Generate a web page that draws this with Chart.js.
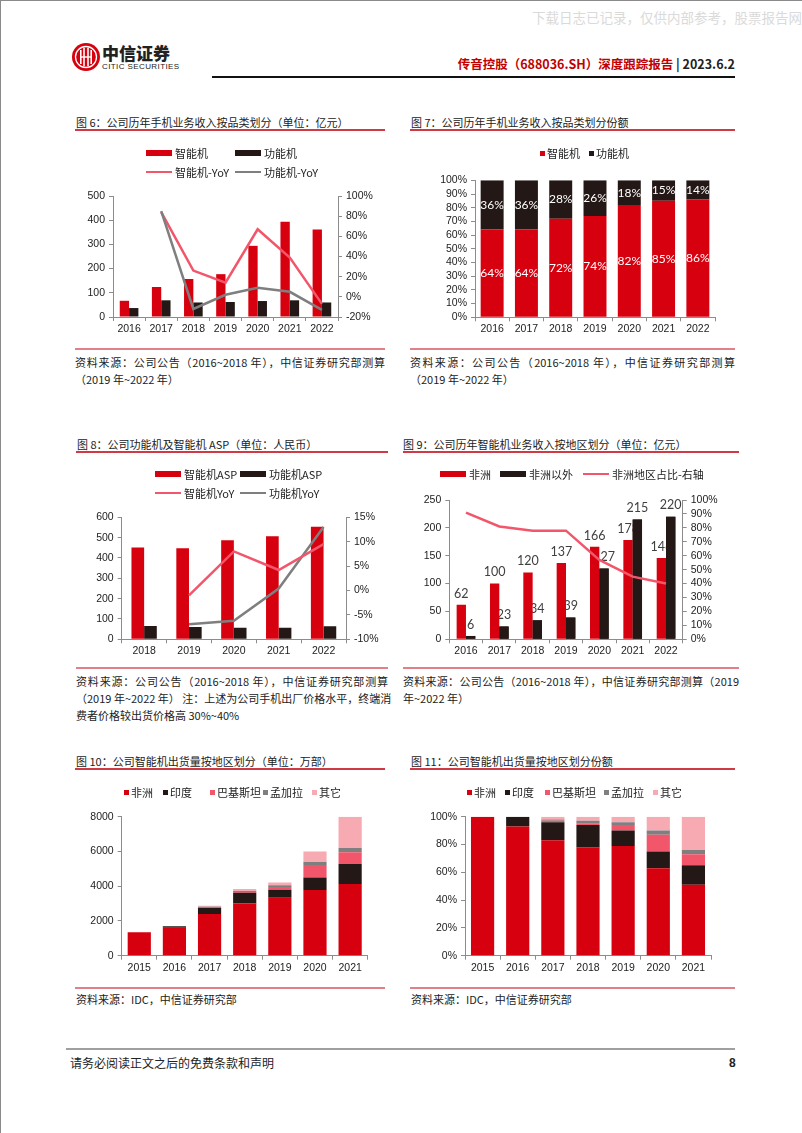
<!DOCTYPE html>
<html lang="zh-CN">
<head>
<meta charset="utf-8">
<script src="https://cdn.jsdelivr.net/npm/chart.js@4.4.0/dist/chart.umd.min.js"></script>
<style>
  html, body { margin: 0; padding: 0; background: #fff; }
  body { width: 802px; height: 1133px; position: relative; overflow: hidden;
         font-family: "Noto Sans CJK SC", "Liberation Sans", sans-serif; color: #222; }
  .frame { position: absolute; left: 0; top: 0; width: 802px; height: 1133px; box-sizing: border-box;
           border-left: 1px solid #8a8a8a; border-top: 1px solid #8a8a8a; pointer-events: none; }
  .abs { position: absolute; white-space: nowrap; }
  .title { position: absolute; font-size: 11px; line-height: 14px; color: #222; white-space: nowrap; }
  .rt { position: absolute; height: 1.5px; background: #cf3a44; }
  .rb { position: absolute; height: 1.5px; background: #e08088; }
  .src { position: absolute; font-size: 11px; line-height: 14px; color: #222; white-space: nowrap; }
  .just { text-align: justify; text-align-last: justify; }
  canvas { position: absolute; }
  .lg { position: absolute; font-size: 11px; line-height: 14px; color: #222; white-space: nowrap; }
  .sw { position: absolute; }
</style>
</head>
<body>
<div class="abs" style="left:532px;top:7px;font-size:13.5px;color:#dadada;">下载日志已记录，仅供内部参考，股票报告网</div>

<svg class="abs" style="left:72px;top:43px" width="28" height="28" viewBox="0 0 28 28">
  <circle cx="14" cy="14" r="14" fill="#d7000f"/>
  <circle cx="14" cy="14" r="10.5" fill="none" stroke="#fff" stroke-width="1.3"/>
  <rect x="8" y="7" width="1.6" height="14" fill="#fff"/>
  <rect x="11.2" y="5" width="1.6" height="18" fill="#fff"/>
  <rect x="15.2" y="5" width="1.6" height="18" fill="#fff"/>
  <rect x="18.4" y="7" width="1.6" height="14" fill="#fff"/>
  <rect x="8" y="13.3" width="12" height="1.4" fill="#fff"/>
</svg>
<div class="abs" style="left:102px;top:42px;font-size:17px;font-weight:900;color:#222;line-height:22px;">中信证券</div>
<div class="abs" style="left:102px;top:62px;font-size:8px;font-family:'Liberation Sans Narrow','Liberation Sans',sans-serif;letter-spacing:0.4px;color:#222;line-height:10px;">CITIC SECURITIES</div>

<div class="abs" style="right:67px;top:56px;font-size:12.5px;font-weight:bold;line-height:16px;">
  <span style="color:#c00000">传音控股（688036.SH）深度跟踪报告</span><span style="color:#222"> | 2023.6.2</span>
</div>
<div class="abs" style="left:212px;top:76px;width:523px;height:2px;background:#111;"></div>

<!-- figure 6 -->
<div class="title" style="left:76px;top:115px;">图 6：公司历年手机业务收入按品类划分（单位：亿元）</div>
<div class="rt" style="left:75px;top:129px;width:310px;"></div>
<canvas id="c6" width="310" height="160" style="left:75px;top:185px;"></canvas>
<div class="rb" style="left:75px;top:348px;width:310px;"></div>
<div class="src just" style="left:75px;top:355px;width:310px;">资料来源：公司公告（2016~2018 年），中信证券研究部测算</div>
<div class="src" style="left:75px;top:372px;">（2019 年~2022 年）</div>

<!-- figure 7 -->
<div class="title" style="left:411px;top:115px;">图 7：公司历年手机业务收入按品类划分份额</div>
<div class="rt" style="left:410px;top:129px;width:325px;"></div>
<canvas id="c7" width="325" height="175" style="left:410px;top:170px;"></canvas>
<div class="rb" style="left:410px;top:348px;width:325px;"></div>
<div class="src just" style="left:410px;top:355px;width:325px;">资料来源：公司公告（2016~2018 年），中信证券研究部测算</div>
<div class="src" style="left:410px;top:372px;">（2019 年~2022 年）</div>

<!-- figure 8 -->
<div class="title" style="left:77px;top:437px;">图 8：公司功能机及智能机 ASP（单位：人民币）</div>
<div class="rt" style="left:76px;top:451px;width:312px;"></div>
<canvas id="c8" width="310" height="160" style="left:75px;top:505px;"></canvas>
<div class="rb" style="left:76px;top:667px;width:312px;"></div>
<div class="src just" style="left:76px;top:674px;width:312px;">资料来源：公司公告（2016~2018 年），中信证券研究部测算</div>
<div class="src just" style="left:76px;top:691px;width:312px;">（2019 年~2022 年） 注：上述为公司手机出厂价格水平，终端消</div>
<div class="src" style="left:76px;top:708px;">费者价格较出货价格高 30%~40%</div>

<!-- figure 9 -->
<div class="title" style="left:403px;top:437px;">图 9：公司历年智能机业务收入按地区划分（单位：亿元）</div>
<div class="rt" style="left:403px;top:451px;width:336px;"></div>
<canvas id="c9" width="332" height="180" style="left:403px;top:485px;"></canvas>
<div class="rb" style="left:403px;top:667px;width:336px;"></div>
<div class="src just" style="left:403px;top:674px;width:336px;">资料来源：公司公告（2016~2018 年），中信证券研究部测算（2019</div>
<div class="src" style="left:403px;top:691px;">年~2022 年）</div>

<!-- figure 10 -->
<div class="title" style="left:76px;top:754px;">图 10：公司智能机出货量按地区划分（单位：万部）</div>
<div class="rt" style="left:75px;top:768px;width:310px;"></div>
<canvas id="c10" width="310" height="178" style="left:75px;top:805px;"></canvas>
<div class="rb" style="left:75px;top:987px;width:310px;"></div>
<div class="src" style="left:76px;top:992px;">资料来源：IDC，中信证券研究部</div>

<!-- figure 11 -->
<div class="title" style="left:411px;top:754px;">图 11：公司智能机出货量按地区划分份额</div>
<div class="rt" style="left:410px;top:768px;width:325px;"></div>
<canvas id="c11" width="325" height="178" style="left:410px;top:805px;"></canvas>
<div class="rb" style="left:410px;top:987px;width:325px;"></div>
<div class="src" style="left:411px;top:992px;">资料来源：IDC，中信证券研究部</div>

<div class="abs" style="left:66px;top:1048px;width:669px;height:2px;background:#a0a0a0;"></div>
<div class="abs" style="left:70px;top:1055px;font-size:12px;line-height:16px;">请务必阅读正文之后的免费条款和声明</div>
<div class="abs" style="left:729px;top:1055px;font-size:12px;line-height:16px;font-weight:bold;font-family:'Liberation Sans',sans-serif;">8</div>

<div class="frame"></div>

<script>
// ---- data ----
const years6 = ['2016', '2017', '2018', '2019', '2020', '2021', '2022'];
const smartRev = [67, 124, 157, 177, 294, 394, 362];
const featureRev = [37, 69, 60, 62, 66, 69, 60];
const smartRevYoY = [null, 84, 26, 14, 67, 39, -7];
const featureRevYoY = [null, 85, -12, 2, 9, 5, -13];

const smartShare = [64, 64, 72, 74, 82, 85, 86];
const featureShare = [36, 36, 28, 26, 18, 15, 14];

const years8 = ['2018', '2019', '2020', '2021', '2022'];
const smartASP = [452, 448, 487, 507, 554];
const featureASP = [66, 61, 57, 57, 64];
const smartAspYoY = [null, -1, 8, 4.2, 9.5];
const featureAspYoY = [null, -6.9, -6.2, 0.4, 13];

const africaRev = [62, 100, 120, 137, 166, 178, 146];
const outsideRev = [6, 23, 34, 39, 127, 215, 220];
const africaRevShare = [91, 81, 78, 78, 57, 45, 40];

const years10 = ['2015', '2016', '2017', '2018', '2019', '2020', '2021'];
const africaShip = [1350, 1610, 2400, 3000, 3340, 3780, 4130];
const indiaShip = [0, 90, 360, 630, 450, 720, 1150];
const pakistanShip = [0, 0, 30, 40, 170, 720, 680];
const bangladeshShip = [0, 0, 30, 60, 100, 180, 240];
const otherShip = [0, 0, 60, 110, 160, 600, 1800];

const africaPct = [100, 93, 83, 78, 79, 63, 51];
const indiaPct = [0, 7, 13, 16, 11, 12, 14];
const pakistanPct = [0, 0, 1, 1, 4, 12, 8];
const bangladeshPct = [0, 0, 1, 2, 2, 3, 3];
const otherPct = [0, 0, 2, 3, 4, 10, 24];

// ---- style ----
const RED = '#d7000f', DARK = '#231815', PINK = '#f2566b', GREY = '#7f7f7f', LPINK = '#f7aab2';
const AX = '#8c8c8c';

Chart.defaults.font.family = "'Liberation Sans', Arial, sans-serif";
Chart.defaults.font.size = 10.5;
Chart.defaults.color = '#222';

function legend(items) {
  for (const [x, y, kind, color, text] of items) {
    let w = 26, h = 6;
    if (kind === 'line') h = 2.5;
    if (kind === 'sq') { w = 5; h = 5; }
    const sw = document.createElement('div');
    sw.className = 'sw';
    sw.style.cssText = `left:${x}px;top:${y - h / 2}px;width:${w}px;height:${h}px;background:${color}`;
    document.body.appendChild(sw);
    const t = document.createElement('div');
    t.className = 'lg';
    t.style.left = (x + w + (kind === 'sq' ? 2 : 3)) + 'px';
    t.style.top = (y - 7) + 'px';
    t.textContent = text;
    document.body.appendChild(t);
  }
}

function xAxis(h) {
  return {
    grid: { drawOnChartArea: false, color: AX, tickLength: 4 },
    border: { color: AX },
    ticks: { padding: 2, autoSkip: false, maxRotation: 0 },
    afterFit(s) { s.height = h; }
  };
}

function yAxis(w, min, max, count, pos, pct, stacked) {
  return {
    position: pos, min, max, stacked: !!stacked,
    grid: { drawOnChartArea: false, color: AX, tickLength: 4 },
    border: { color: AX },
    ticks: { count, autoSkip: false, padding: 4, callback: v => pct ? Math.round(v) + '%' : Math.round(v) },
    afterFit(s) { s.width = w; }
  };
}

function baseOptions(pad, scales, extra) {
  return {
    responsive: false, animation: false, devicePixelRatio: 1,
    layout: { padding: pad },
    plugins: Object.assign({ legend: { display: false }, tooltip: { enabled: false } }, extra || {}),
    scales
  };
}

// value labels on bars, drawn through the bar elements that the library placed
const valueLabels = {
  id: 'valueLabels',
  afterDatasetDraw(chart, args, opts) {
    const ds = chart.data.datasets[args.index];
    if (!ds.showValues) return;
    const ctx = chart.ctx;
    ctx.save();
    ctx.font = opts.font;
    ctx.fillStyle = opts.color;
    ctx.textAlign = 'center';
    args.meta.data.forEach((bar, i) => {
      const v = ds.data[i];
      if (v == null) return;
      const txt = v + (opts.suffix || '');
      if (opts.mode === 'center') {
        ctx.textBaseline = 'middle';
        ctx.fillText(txt, bar.x, (bar.y + bar.base) / 2);
      } else {
        ctx.textBaseline = 'bottom';
        ctx.fillText(txt, bar.x, bar.y - 5);
      }
    });
    ctx.restore();
    if (ds.coverWith != null) chart.getDatasetMeta(ds.coverWith).controller.draw();
  }
};

// ---- figure 6 ----
legend([
  [146, 153, 'bar', RED, '智能机'], [235, 153, 'bar', DARK, '功能机'],
  [146, 172, 'line', PINK, '智能机-YoY'], [235, 172, 'line', GREY, '功能机-YoY']
]);
new Chart(document.getElementById('c6'), {
  type: 'bar',
  data: {
    labels: years6,
    datasets: [
      { type: 'line', label: '功能机-YoY', data: featureRevYoY, yAxisID: 'y1', borderColor: GREY, borderWidth: 2.5, pointRadius: 0, order: 0 },
      { type: 'line', label: '智能机-YoY', data: smartRevYoY, yAxisID: 'y1', borderColor: PINK, borderWidth: 2.5, pointRadius: 0, order: 0 },
      { label: '智能机', data: smartRev, backgroundColor: RED, yAxisID: 'y', order: 1, categoryPercentage: 0.58, barPercentage: 1 },
      { label: '功能机', data: featureRev, backgroundColor: DARK, yAxisID: 'y', order: 1, categoryPercentage: 0.58, barPercentage: 1 }
    ]
  },
  options: baseOptions({ top: 11 }, {
    x: xAxis(28),
    y: yAxis(38, 0, 500, 6, 'left', false),
    y1: yAxis(47, -20, 100, 7, 'right', true)
  })
});

// ---- figure 7 ----
legend([[540, 153, 'sq', RED, '智能机'], [589, 153, 'sq', DARK, '功能机']]);
new Chart(document.getElementById('c7'), {
  type: 'bar',
  data: {
    labels: years6,
    datasets: [
      { label: '智能机', data: smartShare, backgroundColor: RED, showValues: true, categoryPercentage: 0.67, barPercentage: 1 },
      { label: '功能机', data: featureShare, backgroundColor: DARK, showValues: true, categoryPercentage: 0.67, barPercentage: 1 }
    ]
  },
  options: baseOptions({ top: 7.7, right: 20 }, {
    x: Object.assign(xAxis(27.7), { stacked: true }),
    y: yAxis(65, 0, 100, 11, 'left', true, true)
  }, { valueLabels: { mode: 'center', font: "12px Lato, 'Liberation Sans', sans-serif", color: '#fff', suffix: '%' } }),
  plugins: [valueLabels]
});

// ---- figure 8 ----
legend([
  [155, 474, 'bar', RED, '智能机ASP'], [240, 474, 'bar', DARK, '功能机ASP'],
  [155, 493, 'line', PINK, '智能机YoY'], [240, 493, 'line', GREY, '功能机YoY']
]);
new Chart(document.getElementById('c8'), {
  type: 'bar',
  data: {
    labels: years8,
    datasets: [
      { type: 'line', label: '智能机YoY', data: smartAspYoY, yAxisID: 'y1', borderColor: PINK, borderWidth: 2.5, pointRadius: 0, order: 0 },
      { type: 'line', label: '功能机YoY', data: featureAspYoY, yAxisID: 'y1', borderColor: GREY, borderWidth: 2.5, pointRadius: 0, order: 0 },
      { label: '智能机ASP', data: smartASP, backgroundColor: RED, yAxisID: 'y', order: 1, categoryPercentage: 0.565, barPercentage: 1 },
      { label: '功能机ASP', data: featureASP, backgroundColor: DARK, yAxisID: 'y', order: 1, categoryPercentage: 0.565, barPercentage: 1 }
    ]
  },
  options: baseOptions({ top: 12.3 }, {
    x: xAxis(25.7),
    y: yAxis(46.7, 0, 600, 7, 'left', false),
    y1: yAxis(39, -10, 15, 6, 'right', true)
  })
});

// ---- figure 9 ----
legend([
  [440, 474, 'bar', RED, '非洲'], [500, 474, 'bar', DARK, '非洲以外'],
  [583, 474, 'line', PINK, '非洲地区占比-右轴']
]);
new Chart(document.getElementById('c9'), {
  type: 'bar',
  data: {
    labels: years6,
    datasets: [
      { type: 'line', label: '非洲地区占比-右轴', data: africaRevShare, yAxisID: 'y1', borderColor: PINK, borderWidth: 2.5, pointRadius: 0, order: 0 },
      { label: '非洲', data: africaRev, backgroundColor: RED, yAxisID: 'y', order: 1, showValues: true, coverWith: 2, categoryPercentage: 0.56, barPercentage: 1 },
      { label: '非洲以外', data: outsideRev, backgroundColor: DARK, yAxisID: 'y', order: 2, showValues: true, categoryPercentage: 0.56, barPercentage: 1 }
    ]
  },
  options: baseOptions({ top: 15 }, {
    x: xAxis(25.7),
    y: yAxis(46.3, 0, 250, 6, 'left', false),
    y1: yAxis(52.3, 0, 100, 11, 'right', true)
  }, { valueLabels: { mode: 'top', font: "12.5px Lato, 'Liberation Sans', sans-serif", color: '#404040' } }),
  plugins: [valueLabels]
});

// ---- figure 10 ----
legend([
  [124, 792, 'sq', RED, '非洲'], [163, 792, 'sq', DARK, '印度'], [210, 792, 'sq', PINK, '巴基斯坦'],
  [263, 792, 'sq', GREY, '孟加拉'], [312, 792, 'sq', LPINK, '其它']
]);
function regionSets(a, b, c, d, e) {
  return [
    { label: '非洲', data: a, backgroundColor: RED, categoryPercentage: 0.66, barPercentage: 1 },
    { label: '印度', data: b, backgroundColor: DARK, categoryPercentage: 0.66, barPercentage: 1 },
    { label: '巴基斯坦', data: c, backgroundColor: PINK, categoryPercentage: 0.66, barPercentage: 1 },
    { label: '孟加拉', data: d, backgroundColor: GREY, categoryPercentage: 0.66, barPercentage: 1 },
    { label: '其它', data: e, backgroundColor: LPINK, categoryPercentage: 0.66, barPercentage: 1 }
  ];
}
new Chart(document.getElementById('c10'), {
  type: 'bar',
  data: { labels: years10, datasets: regionSets(africaShip, indiaShip, pakistanShip, bangladeshShip, otherShip) },
  options: baseOptions({ top: 11.7, right: 17.3 }, {
    x: Object.assign(xAxis(27.3), { stacked: true }),
    y: yAxis(46.7, 0, 8000, 5, 'left', false, true)
  })
});

// ---- figure 11 ----
legend([
  [467, 792, 'sq', RED, '非洲'], [505, 792, 'sq', DARK, '印度'], [545, 792, 'sq', PINK, '巴基斯坦'],
  [604, 792, 'sq', GREY, '孟加拉'], [653, 792, 'sq', LPINK, '其它']
]);
new Chart(document.getElementById('c11'), {
  type: 'bar',
  data: { labels: years10, datasets: regionSets(africaPct, indiaPct, pakistanPct, bangladeshPct, otherPct) },
  options: baseOptions({ top: 11.7, right: 24 }, {
    x: Object.assign(xAxis(27.3), { stacked: true }),
    y: yAxis(55, 0, 100, 6, 'left', true, true)
  })
});
</script>
</body>
</html>
